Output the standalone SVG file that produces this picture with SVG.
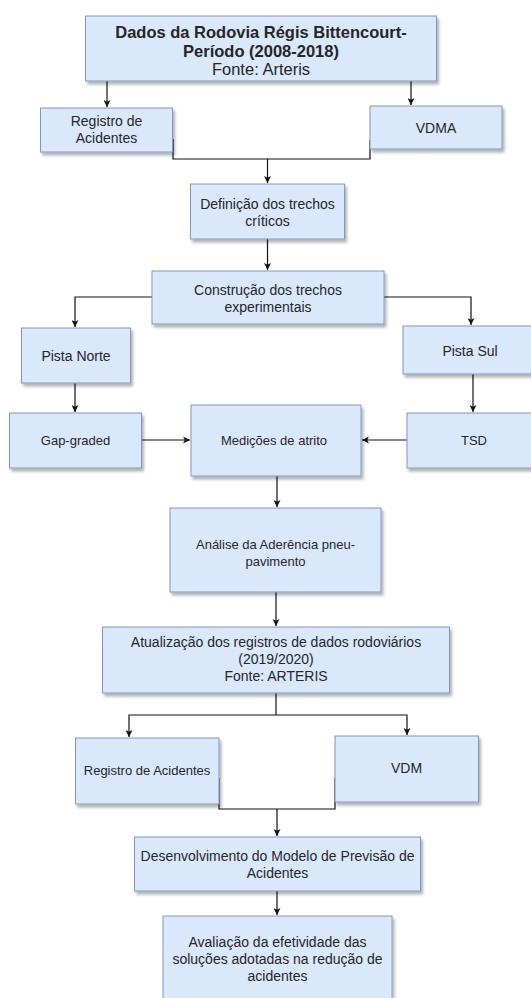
<svg xmlns="http://www.w3.org/2000/svg" width="531" height="998" viewBox="0 0 531 998">
  <style>
    .box { fill: #dae8fc; stroke: #7f97bd; stroke-width: 1; filter: url(#shadow); }
    .t { font-family: "Liberation Sans", Arial, sans-serif; font-size: 14px; fill: #262626; text-anchor: middle; }
    .s13 { font-size: 13px; }
    .title { font-size: 16.5px; font-weight: bold; }
    .sub { font-size: 16.5px; }
    .edge { fill: none; stroke: #111; stroke-width: 1.2; }
  </style>
  <defs>
    <filter id="shadow" x="-10%" y="-10%" width="130%" height="140%">
      <feDropShadow dx="2" dy="3" stdDeviation="1.4" flood-color="#000" flood-opacity="0.3"/>
    </filter>
    <marker id="arrow" viewBox="0 0 10 10" refX="10" refY="5" markerWidth="7" markerHeight="7" markerUnits="userSpaceOnUse" orient="auto">
      <path d="M0,0 L10,5 L0,10 L2.5,5 Z" fill="#111"/>
    </marker>
  </defs>
  <rect width="531" height="998" fill="#ffffff"/>

  <!-- connectors -->
  <g id="connectors">
    <path class="edge" d="M107,81 V107" marker-end="url(#arrow)"/>
    <path class="edge" d="M411,81 V105" marker-end="url(#arrow)"/>
    <path class="edge" d="M173,139 V159 H370 V140"/>
    <path class="edge" d="M267.5,159 V183" marker-end="url(#arrow)"/>
    <path class="edge" d="M267.5,239 V270" marker-end="url(#arrow)"/>
    <path class="edge" d="M152,297 H75 V327" marker-end="url(#arrow)"/>
    <path class="edge" d="M384,297 H471 V325" marker-end="url(#arrow)"/>
    <path class="edge" d="M75,383 V412" marker-end="url(#arrow)"/>
    <path class="edge" d="M473,374 V412" marker-end="url(#arrow)"/>
    <path class="edge" d="M141.5,440 H190" marker-end="url(#arrow)"/>
    <path class="edge" d="M407,440 H362" marker-end="url(#arrow)"/>
    <path class="edge" d="M277,476 V507" marker-end="url(#arrow)"/>
    <path class="edge" d="M276,592 V626" marker-end="url(#arrow)"/>
    <path class="edge" d="M276,693 V715"/>
    <path class="edge" d="M276,715 H129 V737" marker-end="url(#arrow)"/>
    <path class="edge" d="M276,715 H407 V735" marker-end="url(#arrow)"/>
    <path class="edge" d="M219,778 V809 H335 V778"/>
    <path class="edge" d="M277,809 V836" marker-end="url(#arrow)"/>
    <path class="edge" d="M277,891 V915" marker-end="url(#arrow)"/>
  </g>

  <!-- nodes -->
  <g id="dados">
    <rect class="box" x="85.5" y="16" width="351" height="65"/>
    <text class="t title" x="261" y="38">Dados da Rodovia Régis Bittencourt-</text>
    <text class="t title" x="261" y="56.5">Período (2008-2018)</text>
    <text class="t sub" x="261" y="75">Fonte: Arteris</text>
  </g>
  <g id="registro1">
    <rect class="box" x="40.5" y="108" width="132" height="44"/>
    <text class="t" x="106.5" y="126">Registro de</text>
    <text class="t" x="106.5" y="143">Acidentes</text>
  </g>
  <g id="vdma">
    <rect class="box" x="370" y="106" width="132" height="43"/>
    <text class="t" x="436" y="133">VDMA</text>
  </g>
  <g id="definicao">
    <rect class="box" x="190.5" y="184" width="154" height="55"/>
    <text class="t" x="267.5" y="209">Definição dos trechos</text>
    <text class="t" x="267.5" y="226">críticos</text>
  </g>
  <g id="construcao">
    <rect class="box" x="152" y="271" width="232" height="53"/>
    <text class="t" x="268" y="295">Construção dos trechos</text>
    <text class="t" x="268" y="312">experimentais</text>
  </g>
  <g id="pista-norte">
    <rect class="box" x="21.5" y="328" width="109" height="55"/>
    <text class="t" x="76" y="361">Pista Norte</text>
  </g>
  <g id="pista-sul">
    <rect class="box" x="403" y="326" width="135" height="48"/>
    <text class="t" x="470" y="356">Pista Sul</text>
  </g>
  <g id="gap-graded">
    <rect class="box" x="9.5" y="413" width="132" height="55"/>
    <text class="t s13" x="75.5" y="445">Gap-graded</text>
  </g>
  <g id="medicoes">
    <rect class="box" x="191" y="405" width="170" height="71"/>
    <text class="t s13" x="274" y="445">Medições de atrito</text>
  </g>
  <g id="tsd">
    <rect class="box" x="407" y="413" width="135" height="55"/>
    <text class="t s13" x="474" y="445">TSD</text>
  </g>
  <g id="analise">
    <rect class="box" x="170" y="508" width="211" height="84"/>
    <text class="t s13" x="275.5" y="549">Análise da Aderência pneu-</text>
    <text class="t s13" x="275.5" y="566">pavimento</text>
  </g>
  <g id="atualizacao">
    <rect class="box" x="102.5" y="627" width="347" height="66"/>
    <text class="t" x="276" y="647">Atualização dos registros de dados rodoviários</text>
    <text class="t" x="276" y="664">(2019/2020)</text>
    <text class="t" x="276" y="681">Fonte: ARTERIS</text>
  </g>
  <g id="registro2">
    <rect class="box" x="75.5" y="738" width="143.5" height="66"/>
    <text class="t s13" x="147" y="775">Registro de Acidentes</text>
  </g>
  <g id="vdm">
    <rect class="box" x="335" y="736" width="143.5" height="66"/>
    <text class="t" x="406.5" y="773">VDM</text>
  </g>
  <g id="desenvolvimento">
    <rect class="box" x="134.5" y="837" width="286" height="54"/>
    <text class="t" x="277.5" y="861">Desenvolvimento do Modelo de Previsão de</text>
    <text class="t" x="277.5" y="878">Acidentes</text>
  </g>
  <g id="avaliacao">
    <rect class="box" x="163" y="916" width="229" height="90"/>
    <text class="t" x="277.5" y="947">Avaliação da efetividade das</text>
    <text class="t" x="277.5" y="964">soluções adotadas na redução de</text>
    <text class="t" x="277.5" y="981">acidentes</text>
  </g>
</svg>
